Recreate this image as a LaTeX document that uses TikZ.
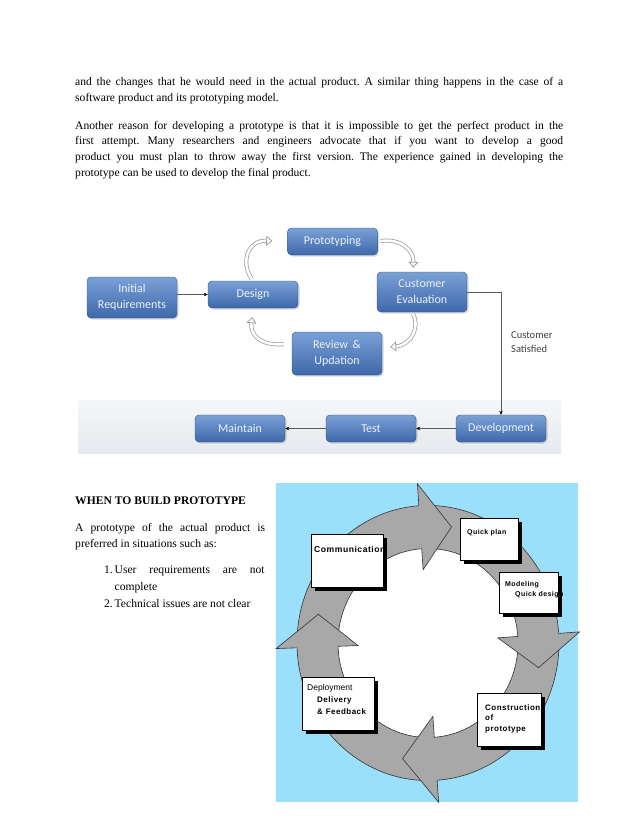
\documentclass[tikz,border=0pt]{standalone}
\usepackage{fontspec}
\setmainfont{Liberation Serif}
\newfontfamily\calibri{Carlito}
\newfontfamily\arial{Liberation Sans}
\newfontfamily\arialsp[LetterSpace=6]{Liberation Sans}
\usetikzlibrary{positioning, arrows.meta, shadows}
\frenchspacing

\definecolor{skyback}{RGB}{155,224,250}
\definecolor{ringfill}{RGB}{168,168,168}
\definecolor{flowtop}{RGB}{122,160,214}
\definecolor{flowbot}{RGB}{62,104,170}
\definecolor{flowedge}{RGB}{50,86,138}
\definecolor{flowtext}{RGB}{236,242,250}
\definecolor{bandgray}{RGB}{230,234,238}
\definecolor{curlgray}{RGB}{150,150,150}

\tikzset{
  bodytext/.style={inner sep=0pt, align=justify, font=\fontsize{11.6}{15.7}\selectfont},
  flowbox/.style={draw=flowedge, rounded corners=4pt, top color=flowtop, bottom color=flowbot,
    text=flowtext, font=\calibri\fontsize{12}{16}\selectfont, align=center,
    minimum width=90pt, minimum height=27pt, inner sep=1pt,
    drop shadow={shadow xshift=1.5pt, shadow yshift=-1.5pt, opacity=0.3}},
  flowline/.style={draw=gray!70!black, line width=0.5pt, -{Stealth[length=4pt, width=3.5pt, black]}},
  curl/.style={draw=curlgray, line width=0.7pt, double=white, double distance=2.6pt,
    -{Triangle[open, length=6pt, width=10pt]}},
  cycbox/.style={draw=black, fill=white, line width=0.5pt, inner sep=0pt,
    drop shadow={shadow xshift=3.5pt, shadow yshift=-3.5pt, opacity=1, fill=black}},
  cyctext/.style={inner sep=0pt, anchor=base west, align=left, text width=80pt,
    font=\arialsp\bfseries\fontsize{8}{10.8}\selectfont},
  ringedge/.style={draw=black!80, line width=0.6pt},
}

\begin{document}
\begin{tikzpicture}[x=1pt, y=-1pt]
\useasboundingbox (0,0) rectangle (638,826);

% Text above the chart
\node[bodytext, anchor=base west, text width=488pt] (para1) at (75,86)
  {and the changes that he would need in the actual product. A similar thing happens in the case of a\linebreak
   software product and its prototyping model.};
\node[bodytext, anchor=base west, text width=488pt] (para2) at (75,129.3)
  {Another reason for developing a prototype is that it is impossible to get the perfect product in the\linebreak
   first attempt. Many researchers and engineers advocate that if you want to develop a good\linebreak
   product you must plan to throw away the first version. The experience gained in developing the\linebreak
   prototype can be used to develop the final product.};

% Band behind the bottom row
\shade[top color=bandgray!40, bottom color=bandgray] (78,400) rectangle (561,453);

% Boxes of the chart
\node[flowbox, minimum height=41pt] (init) at (132,297.5) {Initial\\Requirements};
\node[flowbox] (design) at (253,294.5) {Design};
\node[flowbox] (proto) at (332.5,241.5) {Prototyping};
\node[flowbox, minimum height=40pt] (custev) at (422,292) {Customer\\Evaluation};
\node[flowbox, minimum height=43pt] (review) at (337,353.5) {Review \,\&\\Updation};
\node[flowbox] (devel) at (501,428.5) {Development};
\node[flowbox] (test) at (371,428.5) {Test};
\node[flowbox] (maint) at (240,428.5) {Maintain};

% Straight arrows
\draw[flowline] (design.west -| init.east) -- (design.west);
\draw[flowline] (custev.east) -| (devel.north);
\draw[flowline] (devel) -- (test);
\draw[flowline] (test) -- (maint);
\node[anchor=north west, align=left, inner sep=0pt, text=black!75,
  font=\calibri\fontsize{10.5}{14}\selectfont] (satisf) at (511,331) {Customer\\Satisfied};

% Curled arrows round the loop
\draw[curl, shorten <=2pt, shorten >=15pt] (design.north) .. controls (240,262) and (248,240) .. (proto.west);
\draw[curl, shorten <=3pt, shorten >=4pt] (proto.east) .. controls (400,238) and (414,250) .. ([xshift=-9pt]custev.north);
\draw[curl, shorten <=2pt, shorten >=8pt] ([xshift=-10pt]custev.south) .. controls (420,326) and (412,345) .. ([yshift=6pt]review.east);
\draw[curl, shorten <=8pt, shorten >=9pt] ([yshift=10pt]review.west) .. controls (262,346) and (250,336) .. (design.south);

% Text beside the cycle
\node[bodytext, anchor=base west, font=\bfseries\fontsize{11.6}{15.7}\selectfont] (whenhead) at (75,504)
  {WHEN TO BUILD PROTOTYPE};
\node[bodytext, anchor=base west, text width=190pt, font=\fontsize{11.6}{15.5}\selectfont] (situ) at (75,531.7)
  {A prototype of the actual product is\linebreak preferred in situations such as:};
\node[bodytext, anchor=base east] (num1) at (113,573) {1.};
\node[bodytext, anchor=base west, text width=150pt, font=\fontsize{11.6}{17}\selectfont] (item1) at (114.5,573)
  {User requirements are not\linebreak complete};
\node[bodytext, anchor=base east] (num2) at (113,607) {2.};
\node[bodytext, anchor=base west] (item2) at (114.5,607) {Technical issues are not clear};

% Cycle of the prototyping model
\fill[skyback] (276,483) rectangle (578,802);
\begin{scope}[shift={(428,643)}, y=1.05pt]
  \fill[white] (0,0) circle[radius=90];
  \fill[ringfill, even odd rule] (0,0) circle[radius=131] (0,0) circle[radius=90];
  \draw[ringedge] (0,0) circle[radius=131] (0,0) circle[radius=90];
  \foreach \b/\t in {94/78, 4/-12, -86/-103, 182/166} {
    \fill[ringfill] (\b:131) -- (\b:152) -- (\t:113) -- (\b:70) -- (\b:90) -- cycle;
    \draw[ringedge] (\b:131) -- (\b:152) -- (\t:113) -- (\b:70) -- (\b:90);
  }
\end{scope}

% Boxes on the cycle
\node[cycbox, minimum width=72pt, minimum height=53pt] (comm) at (347,560.5) {};
\node[cycbox, minimum width=58pt, minimum height=42pt] (qplan) at (489,539.5) {};
\node[cycbox, minimum width=59pt, minimum height=41pt] (model) at (529,593) {};
\node[cycbox, minimum width=72pt, minimum height=53pt] (deploy) at (338.5,703.5) {};
\node[cycbox, minimum width=64pt, minimum height=53pt] (constr) at (509.5,719.7) {};

\node[cyctext, font=\arialsp\bfseries\fontsize{8.6}{10}\selectfont] (commtxt) at (314,552.7) {Communication};
\node[cyctext, font=\arialsp\bfseries\fontsize{7}{9.3}\selectfont] (qplantxt) at (467,534) {Quick plan};
\node[cyctext, font=\arialsp\bfseries\fontsize{7}{9.3}\selectfont] (modeltxt) at (505,586.7)
  {Modeling\\\hspace*{10pt}Quick design};
\node[cyctext, font=\arial\fontsize{8.5}{12}\selectfont] (deploytxt) at (307,690)
  {Deployment\\\hspace*{10pt}\arialsp\bfseries\fontsize{8}{12}\selectfont Delivery\\\hspace*{10pt}\& Feedback};
\node[cyctext] (constrtxt) at (485,710) {Construction\\of\\prototype};

\end{tikzpicture}
\end{document}
